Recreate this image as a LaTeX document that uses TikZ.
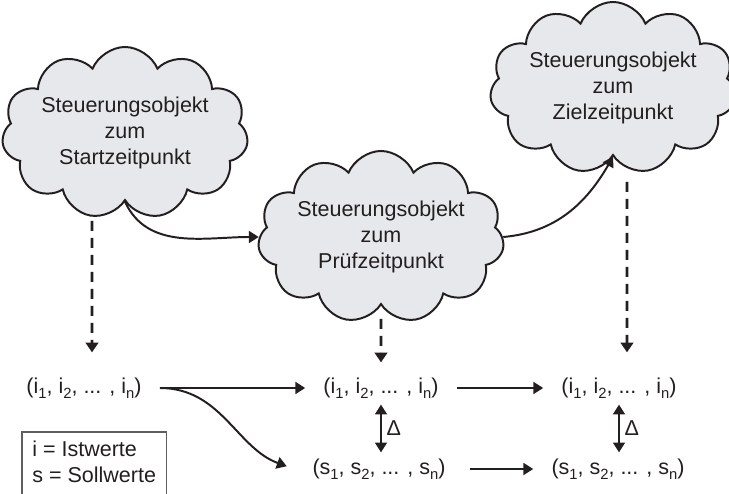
\documentclass[tikz,border=0pt]{standalone}
\usepackage{fontspec}
\setmainfont{Liberation Sans}
\usetikzlibrary{positioning,arrows.meta,calc,shapes.symbols}
\definecolor{wkCloud}{RGB}{231,232,235}
\definecolor{wkInk}{RGB}{35,31,32}
\definecolor{wkFrame}{RGB}{95,95,95}
\tikzset{
    base/.style={font=\fontsize{15.3}{18.4}\selectfont, text=wkInk, align=center},
    wolke/.style={base, cloud, cloud puffs=11, cloud puff arc=135, cloud ignores aspect,
                  draw=wkInk, line width=1.4pt, fill=wkCloud, inner sep=0pt,
                  minimum width=6cm, minimum height=4.3cm},
    tupel/.style={base, inner xsep=0.45cm, inner ysep=0.15cm},
    legende/.style={base, align=left, inner xsep=0.25cm, inner ysep=0.22cm},
    flow/.style={-{Triangle[length=7pt,width=8.5pt]}, line width=1.4pt, color=wkInk},
    dflow/.style={{Triangle[length=7pt,width=8.5pt]}-{Triangle[length=7pt,width=8.5pt]},
                  line width=1.4pt, color=wkInk},
    dashflow/.style={-{Triangle[length=7pt,width=9pt]}, line width=2.1pt,
                     dash pattern=on 0.25cm off 0.175cm, color=wkInk},
    rahmen/.style={draw=wkFrame, line width=0.8pt}
}
\newcommand{\idx}[1]{\raisebox{-0.45ex}{\fontsize{10.5}{10.5}\selectfont #1}}
\newcommand{\tup}[1]{(#1\idx{1}, #1\idx{2}, ... , #1\idx{n})}

\begin{document}
\begin{tikzpicture}[x=0.025cm, y=0.025cm]
  \useasboundingbox (0,0) rectangle (729,493);

  \node[wolke] (cStart) at (125,360) {Steuerungsobjekt\\zum\\Startzeitpunkt};
  \node[wolke] (cPruef) at (381,256) {Steuerungsobjekt\\zum\\Prüfzeitpunkt};
  \node[wolke] (cZiel) at (613,405) {Steuerungsobjekt\\zum\\Zielzeitpunkt};

  \node[tupel] (iStart) at (84,105) {\tup{i}};
  \node[tupel] (iPruef) at (381,105) {\tup{i}};
  \node[tupel] (iZiel) at (619,105) {\tup{i}};
  \node[tupel] (sPruef) at (379,24) {\tup{s}};
  \node[tupel] (sZiel) at (618,24) {\tup{s}};

  \node[legende, anchor=north west] (leg) at (22,61) {i = Istwerte\\s = Sollwerte};
  \draw[rahmen] ([yshift=-0.5cm]leg.south west) |- (leg.north east) -- ([yshift=-0.5cm]leg.south east);

  \draw[flow] (cStart.south) to[out=-65, in=180] (cPruef.west);
  \draw[flow] (cPruef.east) to[out=5, in=-120] (cZiel.south);

  \draw[dashflow] ($(cStart.south)+(-33,-19)$) -- ($(iStart.north)+(8,19)$);
  \draw[dashflow] ($(cPruef.south)+(0,-13)$) -- ($(iPruef.north)+(0,9)$);
  \draw[dashflow] ($(cZiel.south)+(14,-25)$) -- ($(iZiel.north)+(8,19)$);

  \draw[flow] (iStart) -- (iPruef);
  \draw[flow] (iPruef) -- (iZiel);
  \draw[flow, shorten >=0.2cm] (iStart.east) to[out=0, in=160] (sPruef.west);
  \draw[flow, shorten <=0.15cm] (sPruef) -- (sZiel);

  \draw[dflow] (iPruef.south) -- (iPruef.south |- sPruef.north) node[base, midway, right] {Δ};
  \draw[dflow] (iZiel.south) -- (iZiel.south |- sZiel.north) node[base, midway, right] {Δ};
\end{tikzpicture}
\end{document}
